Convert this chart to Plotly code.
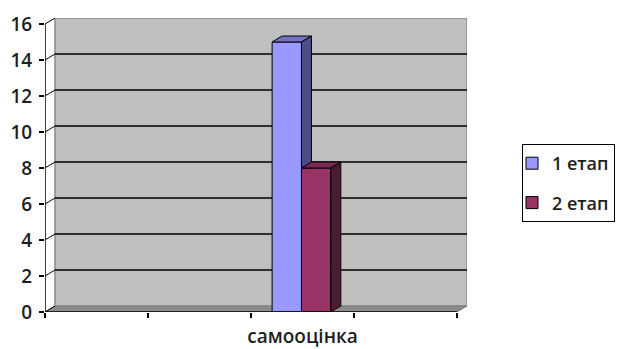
import plotly.graph_objects as go

# Data
categories = ["", "", "самооцінка", ""]
stage1 = [None, None, 15, None]
stage2 = [None, None, 8, None]
series_names = ["1 етап", "2 етап"]
y_ticks = [0, 2, 4, 6, 8, 10, 12, 14, 16]

# Styling
series_values = [stage1, stage2]
front_colors = ["#9999ff", "#993366"]
side_colors = ["#4d4d85", "#4d1a33"]
top_colors = ["#7070c4", "#7a2952"]
bar_width = 0.285
bar_offsets = [-0.295, -0.01]
DX = 0.097   # depth of the 3D box along x (category units)
DY = 0.333   # depth of the 3D box along y (value units)
FONT = "Open Sans"
TEXT = "#1e1e1e"
y_max = y_ticks[-1]
x_lo, x_hi = -0.5, len(categories) - 0.5
xs = list(range(len(categories)))

fig = go.Figure()

# Front faces of the columns
for name, vals, col, off in zip(series_names, series_values, front_colors, bar_offsets):
    fig.add_trace(go.Bar(
        x=xs, y=vals, name=name, legendgroup=name,
        width=bar_width, offset=off,
        marker=dict(color=col, line=dict(color="black", width=1)),
        hoverinfo="skip",
    ))

# Top and right side faces, drawn from the same values
for i, (vals, off) in enumerate(zip(series_values, bar_offsets)):
    nxt = series_values[i + 1] if i + 1 < len(series_values) else None
    for j, v in enumerate(vals):
        if v is None:
            continue
        x0 = xs[j] + off
        x1 = x0 + bar_width
        top_x = [x0, x0 + DX, x1 + DX, x1, x0]
        top_y = [v, v + DY, v + DY, v, v]
        fig.add_trace(go.Scatter(
            x=top_x, y=top_y, mode="lines", fill="toself",
            fillcolor=top_colors[i], line=dict(color="black", width=1),
            showlegend=False, hoverinfo="skip",
        ))
        lower = 0
        if nxt is not None and nxt[j] is not None:
            lower = min(v, nxt[j])
        bottom_r = DY if lower == 0 else lower
        side_x = [x1, x1, x1 + DX, x1 + DX, x1]
        side_y = [lower, v, v + DY, bottom_r, lower]
        fig.add_trace(go.Scatter(
            x=side_x, y=side_y, mode="lines", fill="toself",
            fillcolor=side_colors[i], line=dict(color="black", width=1),
            showlegend=False, hoverinfo="skip",
        ))

shapes = []
# Back wall
shapes.append(dict(type="rect", xref="x", yref="y",
                   x0=x_lo + DX, x1=x_hi + DX, y0=DY, y1=y_max + DY,
                   fillcolor="#c0c0c0", line=dict(color="#8a8a8a", width=1.5),
                   layer="below"))
# Floor
shapes.append(dict(type="path", xref="x", yref="y",
                   path=f"M{x_lo},0 L{x_hi},0 L{x_hi + DX},{DY} L{x_lo + DX},{DY} Z",
                   fillcolor="#8c8c8c", line=dict(color="#808080", width=1),
                   layer="below"))
# Gridlines on the back wall
for t in y_ticks[1:-1]:
    shapes.append(dict(type="line", xref="x", yref="y",
                       x0=x_lo + DX, x1=x_hi + DX, y0=t + DY, y1=t + DY,
                       line=dict(color="black", width=1.5), layer="below"))
# Short connectors from the value axis to the wall
for t in y_ticks:
    shapes.append(dict(type="line", xref="x", yref="y",
                       x0=x_lo, x1=x_lo + DX, y0=t, y1=t + DY,
                       line=dict(color="black", width=1), layer="below"))
# Axis lines
shapes.append(dict(type="line", xref="x", yref="y", x0=x_lo, x1=x_lo, y0=0, y1=y_max,
                   line=dict(color="black", width=1.5)))
shapes.append(dict(type="line", xref="x", yref="y", x0=x_lo, x1=x_hi, y0=0, y1=0,
                   line=dict(color="black", width=1.5)))

fig.update_layout(
    width=620, height=349, autosize=False,
    margin=dict(l=45, r=153, t=18, b=37, pad=0, autoexpand=False),
    paper_bgcolor="white", plot_bgcolor="white",
    barmode="overlay",
    shapes=shapes,
    font=dict(family=FONT, size=16, color=TEXT),
    xaxis=dict(
        range=[x_lo, x_hi + DX], tickmode="array", tickvals=xs, ticktext=categories,
        ticks="", showgrid=False, zeroline=False, showline=False, automargin=False,
        tickfont=dict(family=FONT, size=19, color=TEXT, weight=600),
        ticklabelstandoff=11,
        minor=dict(tickmode="array", tickvals=[k - 0.5 for k in range(len(categories) + 1)],
                   ticks="outside", ticklen=5, tickwidth=1.5, tickcolor="black", showgrid=False),
        fixedrange=True,
    ),
    yaxis=dict(
        range=[0, y_max + DY], tickmode="array", tickvals=y_ticks,
        ticks="outside", ticklen=5, tickwidth=1.5, tickcolor="black",
        showgrid=False, zeroline=False, showline=False, automargin=False,
        tickfont=dict(family=FONT, size=19, color=TEXT, weight=600),
        ticklabelstandoff=3,
        fixedrange=True,
    ),
    legend=dict(
        x=(522 - 45) / 422, y=(312 - 144) / 294, xanchor="left", yanchor="top",
        bordercolor="black", borderwidth=1, bgcolor="white",
        font=dict(family=FONT, size=18, color=TEXT, weight=600),
        tracegroupgap=13, itemwidth=30, indentation=-11,
    ),
)

fig.write_html("out.html")
